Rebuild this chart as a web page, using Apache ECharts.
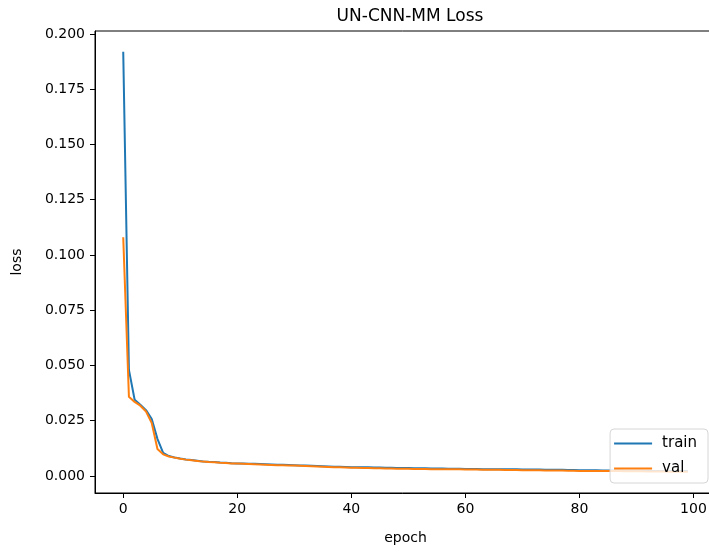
<!DOCTYPE html>
<html>
<head>
<meta charset="utf-8">
<script src="https://cdn.jsdelivr.net/npm/echarts@6/dist/echarts.min.js"></script>
<style>
html,body{margin:0;padding:0;background:#fff;}
#chart{width:709px;height:552px;}
</style>
</head>
<body>
<div id="chart"></div>
<script>
var titleText = "UN-CNN-MM Loss";
var xName = "epoch";
var yName = "loss";
var seriesNames = ["train", "val"];
var xTicks = [0, 20, 40, 60, 80, 100];
var yTicks = [0, 0.025, 0.05, 0.075, 0.1, 0.125, 0.15, 0.175, 0.2];

var train = [
0.1920, 0.0480, 0.0345, 0.0322, 0.0298, 0.0258, 0.0168, 0.0105, 0.0090, 0.0084,
0.0079, 0.0075, 0.0072, 0.0069, 0.0066, 0.0064, 0.0063, 0.0061, 0.0060, 0.0058,
0.0057, 0.0056, 0.0055, 0.0055, 0.0054, 0.0053, 0.0052, 0.0051, 0.0051, 0.0050,
0.0049, 0.0048, 0.0047, 0.0046, 0.0045, 0.0044, 0.0043, 0.0042, 0.0042, 0.0041,
0.0040, 0.0040, 0.0039, 0.0039, 0.0038, 0.0038, 0.0037, 0.0037, 0.0036, 0.0036,
0.0036, 0.0035, 0.0035, 0.0035, 0.0034, 0.0034, 0.0034, 0.0033, 0.0033, 0.0033,
0.0032, 0.0032, 0.0032, 0.0031, 0.0031, 0.0031, 0.0031, 0.0030, 0.0030, 0.0030,
0.0029, 0.0029, 0.0029, 0.0029, 0.0028, 0.0028, 0.0028, 0.0028, 0.0027, 0.0027,
0.0026, 0.0026, 0.0026, 0.0026, 0.0025, 0.0025, 0.0025, 0.0025, 0.0024, 0.0024,
0.0024, 0.0024, 0.0023, 0.0023, 0.0023, 0.0023, 0.0022, 0.0022, 0.0022, 0.0022];

var val = [
0.1080, 0.0358, 0.0335, 0.0318, 0.0292, 0.0240, 0.0122, 0.0098, 0.0088, 0.0083,
0.0078, 0.0074, 0.0071, 0.0068, 0.0065, 0.0063, 0.0062, 0.0060, 0.0059, 0.0057,
0.0056, 0.0055, 0.0054, 0.0053, 0.0052, 0.0051, 0.0050, 0.0049, 0.0049, 0.0048,
0.0047, 0.0046, 0.0045, 0.0044, 0.0043, 0.0042, 0.0041, 0.0040, 0.0039, 0.0038,
0.0037, 0.0037, 0.0036, 0.0036, 0.0035, 0.0035, 0.0034, 0.0034, 0.0033, 0.0033,
0.0033, 0.0032, 0.0032, 0.0032, 0.0031, 0.0031, 0.0031, 0.0030, 0.0030, 0.0030,
0.0029, 0.0029, 0.0029, 0.0028, 0.0028, 0.0028, 0.0028, 0.0027, 0.0027, 0.0027,
0.0026, 0.0026, 0.0026, 0.0026, 0.0025, 0.0025, 0.0025, 0.0025, 0.0024, 0.0024,
0.0023, 0.0023, 0.0023, 0.0023, 0.0022, 0.0022, 0.0022, 0.0022, 0.0021, 0.0021,
0.0021, 0.0021, 0.0020, 0.0020, 0.0020, 0.0020, 0.0019, 0.0019, 0.0019, 0.0019];

var FONT = "DejaVu Sans";
var chart = echarts.init(document.getElementById('chart'), null, {renderer: 'canvas'});
function pairs(arr){ return arr.map(function(v, i){ return [i, v]; }); }

chart.setOption({
  animation: false,
  backgroundColor: '#ffffff',
  title: {
    text: titleText, left: 405, textAlign: 'center', top: 3,
    textStyle: {fontFamily: FONT, fontSize: 17, fontWeight: 'normal', color: '#000'}
  },
  grid: {left: 95, top: 31, right: -7, bottom: 59, show: true, borderColor: '#000', borderWidth: 1,
         containLabel: false, outerBoundsMode: 'none'},
  legend: {
    data: seriesNames.map(function(n){ return {name: n, icon: 'rect'}; }),
    orient: 'vertical', right: 1, bottom: 69,
    itemWidth: 38, itemHeight: 2, itemGap: 10,
    backgroundColor: 'rgba(255,255,255,0.8)', borderColor: '#d6d6d6', borderWidth: 1, borderRadius: 4,
    padding: [7, 11, 7, 4],
    textStyle: {fontFamily: FONT, fontSize: 15, color: '#000', padding: [0, 0, 0, 5]}
  },
  xAxis: {
    type: 'value', min: -4.95, max: 103.95,
    name: xName, nameLocation: 'middle', nameGap: 38,
    nameTextStyle: {fontFamily: FONT, fontSize: 14, color: '#000'},
    axisLine: {show: true, onZero: false, lineStyle: {color: '#000', width: 1}},
    axisTick: {show: true, length: 5, inside: false, customValues: xTicks, lineStyle: {color: '#000'}},
    axisLabel: {show: true, margin: 9, customValues: xTicks, fontFamily: FONT, fontSize: 14, color: '#000', showMinLabel: true, showMaxLabel: true},
    splitLine: {show: false}
  },
  yAxis: {
    type: 'value', min: -0.0077, max: 0.20136,
    name: yName, nameLocation: 'middle', nameGap: 71, nameRotate: 90,
    nameTextStyle: {fontFamily: FONT, fontSize: 14, color: '#000'},
    axisLine: {show: true, onZero: false, lineStyle: {color: '#000', width: 1}},
    axisTick: {show: true, length: 5, inside: false, customValues: yTicks, lineStyle: {color: '#000'}},
    axisLabel: {show: true, margin: 10, customValues: yTicks, fontFamily: FONT, fontSize: 14, color: '#000',
      formatter: function(v){ return Number(v).toFixed(3); }},
    splitLine: {show: false}
  },
  series: [
    {name: seriesNames[0], type: 'line', data: pairs(train), showSymbol: false, symbol: 'none',
     lineStyle: {color: '#1f77b4', width: 2}, itemStyle: {color: '#1f77b4'}, z: 2},
    {name: seriesNames[1], type: 'line', data: pairs(val), showSymbol: false, symbol: 'none',
     lineStyle: {color: '#ff7f0e', width: 2}, itemStyle: {color: '#ff7f0e'}, z: 3}
  ]
});
</script>
</body>
</html>
